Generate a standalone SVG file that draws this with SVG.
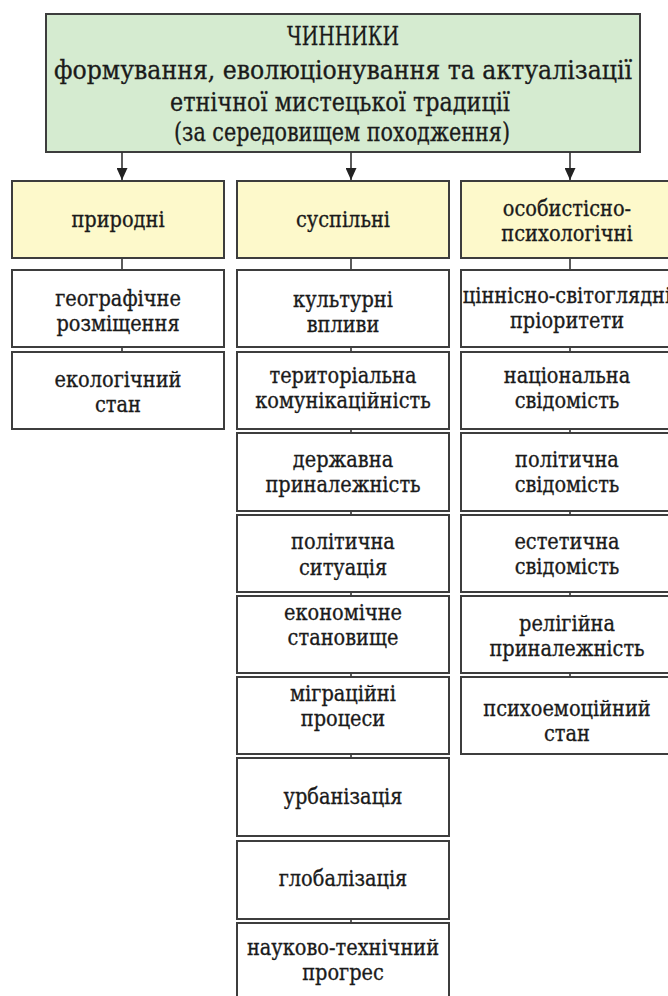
<svg xmlns="http://www.w3.org/2000/svg" width="668" height="996" viewBox="0 0 668 996">
<defs>
<style>
.box{fill:#ffffff;stroke:#3d3d3d;stroke-width:2}
.hdr{fill:#fdf9cb;stroke:#3d3d3d;stroke-width:2}
.top{fill:#d5ebd0;stroke:#3d3d3d;stroke-width:2}
text{font-family:'DejaVu Serif Condensed','DejaVu Serif',serif;font-stretch:condensed;fill:#1a1a1a;stroke:#1a1a1a;stroke-width:0.3;text-anchor:middle}
.t{font-size:21.5px}
.tt{font-size:26px}
.conn line{stroke:#333333;stroke-width:1.6}
</style>
<marker id="ah" markerWidth="12" markerHeight="11" refX="12" refY="5.5" orient="auto" markerUnits="userSpaceOnUse" viewBox="0 0 12 11">
<path d="M0,0 L12,5.5 L0,11 Z" fill="#222"/>
</marker>
</defs>
<rect width="668" height="996" fill="#ffffff"/>

<g id="top">
<rect class="top" x="46" y="14" width="594" height="138"/>
<text class="tt" x="343" y="45" textLength="112" lengthAdjust="spacingAndGlyphs">ЧИННИКИ</text>
<text class="tt" x="343" y="79" textLength="578" lengthAdjust="spacingAndGlyphs">формування, еволюціонування та актуалізації</text>
<text class="tt" x="340" y="111" textLength="340" lengthAdjust="spacingAndGlyphs">етнічної мистецької традиції</text>
<text class="tt" x="342" y="141" textLength="336" lengthAdjust="spacingAndGlyphs">(за середовищем походження)</text>
</g>

<g id="connectors" class="conn">
<line x1="122" y1="152" x2="122" y2="180" marker-end="url(#ah)"/>
<line x1="351" y1="152" x2="351" y2="180" marker-end="url(#ah)"/>
<line x1="570" y1="152" x2="570" y2="180" marker-end="url(#ah)"/>
<line x1="122" y1="258" x2="122" y2="270"/>
<line x1="122" y1="347" x2="122" y2="352"/>
<line x1="351" y1="258" x2="351" y2="270"/>
<line x1="351" y1="347" x2="351" y2="352"/>
<line x1="351" y1="429" x2="351" y2="433"/>
<line x1="351" y1="511" x2="351" y2="515"/>
<line x1="351" y1="592" x2="351" y2="596"/>
<line x1="351" y1="673" x2="351" y2="677"/>
<line x1="351" y1="754" x2="351" y2="758"/>
<line x1="351" y1="919" x2="351" y2="923"/>
<line x1="570" y1="258" x2="570" y2="270"/>
<line x1="570" y1="347" x2="570" y2="352"/>
<line x1="570" y1="429" x2="570" y2="433"/>
<line x1="570" y1="511" x2="570" y2="515"/>
<line x1="570" y1="592" x2="570" y2="596"/>
<line x1="570" y1="673" x2="570" y2="677"/>
</g>

<g id="pryrodni">
<rect class="hdr" x="12" y="181" width="212" height="77"/>
<text class="t" x="118" y="227">природні</text>
</g>
<g id="geo">
<rect class="box" x="12" y="270" width="212" height="77"/>
<text class="t" x="118" y="306">географічне</text>
<text class="t" x="118" y="331">розміщення</text>
</g>
<g id="eco">
<rect class="box" x="12" y="352" width="212" height="77"/>
<text class="t" x="118" y="387">екологічний</text>
<text class="t" x="118" y="412">стан</text>
</g>

<g id="suspilni">
<rect class="hdr" x="237" y="181" width="212" height="77"/>
<text class="t" x="343" y="227">суспільні</text>
</g>
<g id="kult">
<rect class="box" x="237" y="270" width="212" height="77"/>
<text class="t" x="343" y="307">культурні</text>
<text class="t" x="343" y="332">впливи</text>
</g>
<g id="terr">
<rect class="box" x="237" y="352" width="212" height="77"/>
<text class="t" x="343" y="383">територіальна</text>
<text class="t" x="343" y="408">комунікаційність</text>
</g>
<g id="derzh">
<rect class="box" x="237" y="433" width="212" height="78"/>
<text class="t" x="343" y="467">державна</text>
<text class="t" x="343" y="492">приналежність</text>
</g>
<g id="polit">
<rect class="box" x="237" y="515" width="212" height="77"/>
<text class="t" x="343" y="549">політична</text>
<text class="t" x="343" y="575">ситуація</text>
</g>
<g id="econ">
<rect class="box" x="237" y="596" width="212" height="77"/>
<text class="t" x="343" y="620">економічне</text>
<text class="t" x="343" y="645">становище</text>
</g>
<g id="migr">
<rect class="box" x="237" y="677" width="212" height="77"/>
<text class="t" x="343" y="701">міграційні</text>
<text class="t" x="343" y="726">процеси</text>
</g>
<g id="urb">
<rect class="box" x="237" y="758" width="212" height="78"/>
<text class="t" x="343" y="804">урбанізація</text>
</g>
<g id="glob">
<rect class="box" x="237" y="841" width="212" height="78"/>
<text class="t" x="343" y="886">глобалізація</text>
</g>
<g id="nauk">
<rect class="box" x="237" y="923" width="212" height="78"/>
<text class="t" x="343" y="955">науково-технічний</text>
<text class="t" x="343" y="980">прогрес</text>
</g>

<g id="osob">
<rect class="hdr" x="461" y="181" width="212" height="77"/>
<text class="t" x="567" y="216">особистісно-</text>
<text class="t" x="567" y="241">психологічні</text>
</g>
<g id="tsin">
<rect class="box" x="461" y="270" width="212" height="77"/>
<text class="t" x="567" y="303">ціннісно-світоглядні</text>
<text class="t" x="567" y="328">пріоритети</text>
</g>
<g id="nats">
<rect class="box" x="461" y="352" width="212" height="77"/>
<text class="t" x="567" y="383">національна</text>
<text class="t" x="567" y="408">свідомість</text>
</g>
<g id="polsv">
<rect class="box" x="461" y="433" width="212" height="78"/>
<text class="t" x="567" y="467">політична</text>
<text class="t" x="567" y="492">свідомість</text>
</g>
<g id="est">
<rect class="box" x="461" y="515" width="212" height="77"/>
<text class="t" x="567" y="549">естетична</text>
<text class="t" x="567" y="574">свідомість</text>
</g>
<g id="rel">
<rect class="box" x="461" y="596" width="212" height="77"/>
<text class="t" x="567" y="631">релігійна</text>
<text class="t" x="567" y="656">приналежність</text>
</g>
<g id="psy">
<rect class="box" x="461" y="677" width="212" height="77"/>
<text class="t" x="567" y="716">психоемоційний</text>
<text class="t" x="567" y="741">стан</text>
</g>
</svg>
